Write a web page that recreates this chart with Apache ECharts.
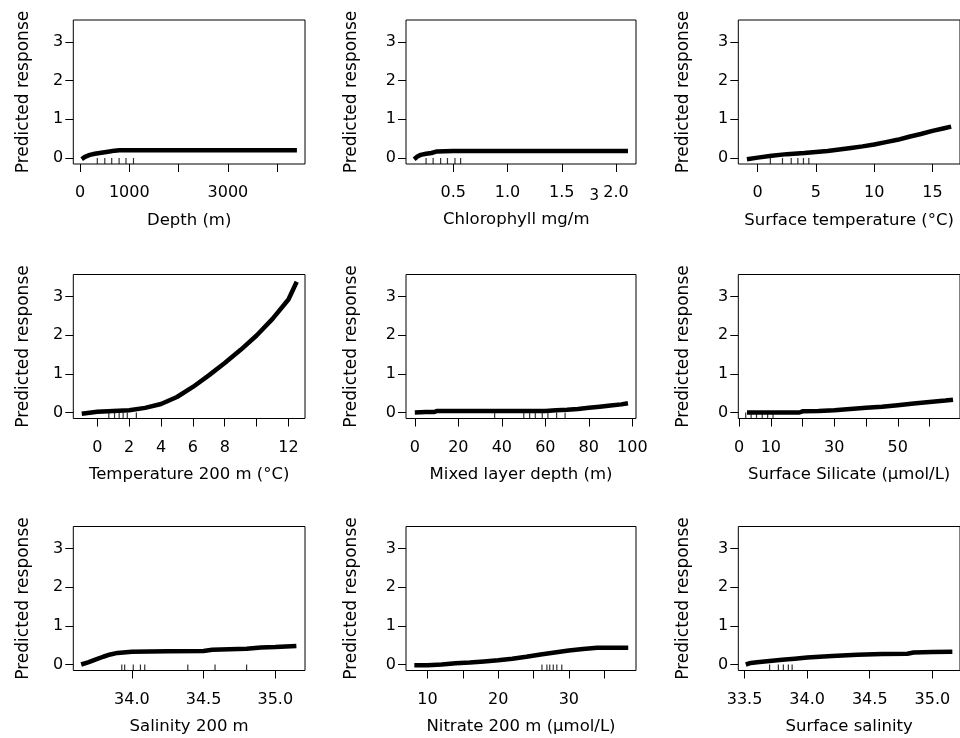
<!DOCTYPE html>
<html>
<head>
<meta charset="utf-8">
<script src="https://cdn.jsdelivr.net/npm/echarts@6/dist/echarts.min.js"></script>
<style>
html,body{margin:0;padding:0;background:#fff;}
#chart{width:960px;height:738px;}
</style>
</head>
<body>
<div id="chart"></div>
<script>
// ---------- data ----------
const yTicks = [0, 1, 2, 3];

const depthX = [34, 100, 200, 300, 400, 500, 600, 700, 800, 1000, 2000, 3000, 4000, 4400];
const depthY = [-0.03, 0.03, 0.08, 0.11, 0.13, 0.15, 0.17, 0.19, 0.2, 0.2, 0.2, 0.2, 0.2, 0.2];
const depthRug = [351, 503, 643, 793, 933, 1085];
const depthTicks = [0, 1000, 2000, 3000, 4000];
const depthLabels = [0, 1000, 3000];

const chlX = [0.14, 0.17, 0.2, 0.25, 0.3, 0.35, 0.5, 1.0, 1.5, 2.11];
const chlY = [-0.03, 0.04, 0.08, 0.11, 0.13, 0.17, 0.18, 0.18, 0.18, 0.18];
const chlRug = [0.25, 0.315, 0.384, 0.447, 0.516, 0.568];
const chlTicks = [0.5, 1.0, 1.5, 2.0];
const chlLabels = [0.5, 1.0, 1.5, 2.0];

const sstX = [-0.92, 0, 1.2, 2.5, 4, 5, 6, 7, 8, 9, 10, 11, 12, 13, 14, 15, 16, 16.6];
const sstY = [-0.03, 0.01, 0.06, 0.1, 0.13, 0.155, 0.18, 0.22, 0.26, 0.3, 0.35, 0.41, 0.47, 0.55, 0.62, 0.7, 0.77, 0.81];
const sstRug = [1.09, 2.13, 2.88, 3.45, 3.93, 4.39];
const sstTicks = [0, 5, 10, 15];
const sstLabels = [0, 5, 10, 15];

const t200X = [-0.98, 0, 1, 2, 3, 4, 5, 6, 7, 8, 9, 10, 11, 12, 12.52];
const t200Y = [-0.03, 0.02, 0.04, 0.06, 0.12, 0.22, 0.4, 0.66, 0.96, 1.28, 1.62, 1.99, 2.42, 2.92, 3.38];
const t200Rug = [0.72, 1.08, 1.37, 1.62, 1.88, 2.45];
const t200Ticks = [0, 2, 4, 6, 8, 10, 12];
const t200Labels = [0, 2, 4, 6, 8, 12];

const mldX = [0, 5, 9, 10, 20, 40, 60, 65, 70, 75, 80, 85, 90, 95, 98];
const mldY = [0.0, 0.01, 0.01, 0.04, 0.04, 0.04, 0.04, 0.06, 0.07, 0.09, 0.12, 0.15, 0.18, 0.21, 0.24];
const mldRug = [36.7, 50.1, 52.8, 55.4, 58.6, 61.2, 65.2, 69.1];
const mldTicks = [0, 20, 40, 60, 80, 100];
const mldLabels = [0, 20, 40, 60, 80, 100];

const silX = [2.5, 10, 19, 20, 25, 30, 35, 40, 45, 50, 55, 60, 65, 67.4];
const silY = [0.0, 0.0, 0.0, 0.03, 0.04, 0.06, 0.09, 0.12, 0.15, 0.19, 0.23, 0.27, 0.31, 0.33];
const silRug = [2.1, 3.8, 5.5, 7.3, 9.0, 10.7];
const silTicks = [0, 10, 20, 30, 40, 50, 60];
const silLabels = [0, 10, 30, 50];

const sal200X = [33.647, 33.7, 33.75, 33.8, 33.85, 33.9, 34.0, 34.25, 34.5, 34.56, 34.8, 34.9, 35.0, 35.147];
const sal200Y = [0.0, 0.06, 0.13, 0.2, 0.26, 0.3, 0.33, 0.345, 0.35, 0.38, 0.41, 0.44, 0.45, 0.48];
const sal200Rug = [33.93, 33.95, 34.01, 34.06, 34.09, 34.39, 34.58, 34.8];
const sal200Ticks = [34.0, 34.5, 35.0];
const sal200Labels = [34.0, 34.5, 35.0];

const nitX = [8.15, 10, 12, 14, 16, 18, 20, 22, 24, 26, 28, 30, 32, 34, 36, 38.4];
const nitY = [-0.02, -0.02, 0.0, 0.03, 0.05, 0.08, 0.11, 0.15, 0.2, 0.26, 0.31, 0.36, 0.4, 0.43, 0.43, 0.43];
const nitRug = [26.2, 26.9, 27.3, 27.8, 28.3, 29.0];
const nitTicks = [10, 15, 20, 25, 30, 35];
const nitLabels = [10, 20, 30];

const ssalX = [33.51, 33.55, 33.6, 33.7, 33.8, 33.9, 34.0, 34.2, 34.4, 34.6, 34.8, 34.85, 35.0, 35.16];
const ssalY = [0.0, 0.04, 0.06, 0.09, 0.12, 0.15, 0.18, 0.22, 0.25, 0.27, 0.28, 0.31, 0.32, 0.33];
const ssalRug = [33.7, 33.77, 33.81, 33.85, 33.88];
const ssalTicks = [33.5, 34.0, 34.5, 35.0];
const ssalLabels = [33.5, 34.0, 34.5, 35.0];

// ---------- panel table ----------
const Y_MIN = -0.155, Y_MAX = 3.566;
const panels = [
  {name: 'Depth (m)', x: depthX, y: depthY, rug: depthRug, ticks: depthTicks, labels: depthLabels, min: -136, max: 4564, dec: 0},
  {name: '{m|Chlorophyll mg/m}{s|3}', sup: true, x: chlX, y: chlY, rug: chlRug, ticks: chlTicks, labels: chlLabels, min: 0.065, max: 2.184, dec: 1},
  {name: 'Surface temperature (°C)', x: sstX, y: sstY, rug: sstRug, ticks: sstTicks, labels: sstLabels, min: -1.66, max: 17.36, dec: 0},
  {name: 'Temperature 200 m (°C)', x: t200X, y: t200Y, rug: t200Rug, ticks: t200Ticks, labels: t200Labels, min: -1.51, max: 13.04, dec: 0},
  {name: 'Mixed layer depth (m)', x: mldX, y: mldY, rug: mldRug, ticks: mldTicks, labels: mldLabels, min: -4.05, max: 101.7, dec: 0},
  {name: 'Surface Silicate (µmol/L)', x: silX, y: silY, rug: silRug, ticks: silTicks, labels: silLabels, min: -0.24, max: 69.6, dec: 0},
  {name: 'Salinity 200 m', x: sal200X, y: sal200Y, rug: sal200Rug, ticks: sal200Ticks, labels: sal200Labels, min: 33.592, max: 35.207, dec: 1},
  {name: 'Nitrate 200 m (µmol/L)', x: nitX, y: nitY, rug: nitRug, ticks: nitTicks, labels: nitLabels, min: 6.97, max: 39.5, dec: 0},
  {name: 'Surface salinity', x: ssalX, y: ssalY, rug: ssalRug, ticks: ssalTicks, labels: ssalLabels, min: 33.45, max: 35.221, dec: 1}
];

const FONT = 'DejaVu Sans';
const cols = [{left: 73.3, width: 231.7, gap: 41}, {left: 406, width: 230, gap: 46}, {left: 738.3, width: 232, gap: 46}];
const rows = [20, 274.5, 526.5];
const H = 144;

const grid = [], xAxis = [], yAxis = [], series = [];
panels.forEach((p, i) => {
  const c = cols[i % 3], top = rows[Math.floor(i / 3)];
  grid.push({left: c.left, top: top, width: c.width, height: H, show: true,
    borderColor: '#000', borderWidth: 1, backgroundColor: 'transparent', containLabel: false});
  xAxis.push({
    type: 'value', gridIndex: i, min: p.min, max: p.max, position: 'bottom',
    name: p.name, nameLocation: 'middle', nameGap: p.sup ? 25 : 48, nameMoveOverlap: false,
    nameTextStyle: p.sup ? {
      color: '#000', fontFamily: FONT, fontSize: 16.5,
      rich: {
        m: {color: '#000', fontFamily: FONT, fontSize: 16.5, verticalAlign: 'bottom'},
        s: {color: '#000', fontFamily: FONT, fontSize: 15, verticalAlign: 'top', padding: [0, 0, 24, 0]}
      }
    } : {color: '#000', fontFamily: FONT, fontSize: 16.5},
    axisLine: {show: false, onZero: false},
    axisTick: {show: true, inside: false, length: 8, lineStyle: {color: '#000', width: 1}, customValues: p.ticks},
    axisLabel: {show: true, margin: 21, color: '#000', fontFamily: FONT, fontSize: 16,
      customValues: p.labels, formatter: v => Number(v).toFixed(p.dec)},
    splitLine: {show: false}
  });
  yAxis.push({
    type: 'value', gridIndex: i, min: Y_MIN, max: Y_MAX, position: 'left',
    name: 'Predicted response', nameLocation: 'middle', nameGap: c.gap, nameRotate: 90, nameMoveOverlap: false,
    nameTextStyle: {color: '#000', fontFamily: FONT, fontSize: 17},
    axisLine: {show: false, onZero: false},
    axisTick: {show: true, inside: false, length: 8, lineStyle: {color: '#000', width: 1}, customValues: yTicks},
    axisLabel: {show: true, margin: 10, color: '#000', fontFamily: FONT, fontSize: 16, customValues: yTicks},
    splitLine: {show: false}
  });
  series.push({
    type: 'line', xAxisIndex: i, yAxisIndex: i, showSymbol: false, symbol: 'none',
    data: p.x.map((v, k) => [v, p.y[k]]),
    lineStyle: {color: '#000', width: 4.5}, clip: true, silent: true, animation: false
  });
  series.push({
    type: 'scatter', xAxisIndex: i, yAxisIndex: i, symbol: 'rect', symbolSize: [1.2, 6],
    symbolOffset: [0, -3], itemStyle: {color: '#000'}, clip: false, silent: true, animation: false,
    data: p.rug.map(v => [v, Y_MIN])
  });
});

const chart = echarts.init(document.getElementById('chart'), null, {renderer: 'canvas'});
chart.setOption({backgroundColor: '#fff', animation: false, grid, xAxis, yAxis, series});
</script>
</body>
</html>
